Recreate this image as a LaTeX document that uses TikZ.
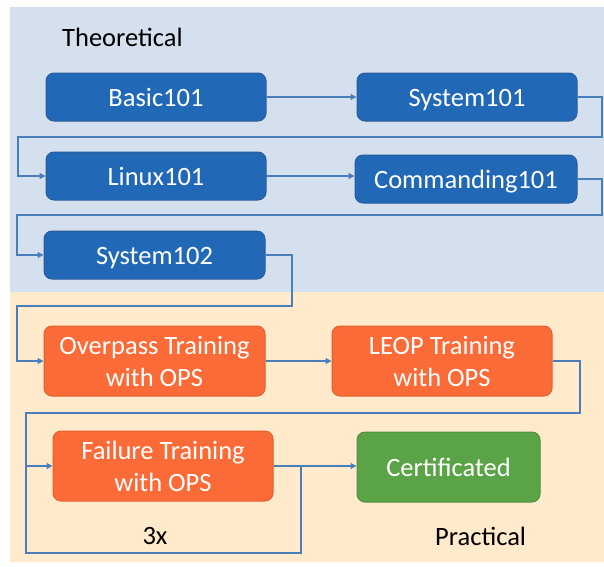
\documentclass[tikz,border=0pt]{standalone}
\usepackage{fontspec}
\setmainfont{Carlito}
\usetikzlibrary{arrows.meta}
\definecolor{bgblue}{HTML}{D5E0EE}
\definecolor{bgorange}{HTML}{FFEBCB}
\definecolor{boxblue}{HTML}{2169B6}
\definecolor{boxblueedge}{HTML}{2A5C9A}
\definecolor{boxorange}{HTML}{FB6B37}
\definecolor{boxorangeedge}{HTML}{E0602F}
\definecolor{boxgreen}{HTML}{5AA447}
\definecolor{boxgreenedge}{HTML}{4E8F3E}
\definecolor{conncol}{HTML}{4A7EBB}
\tikzset{
  card/.style={rounded corners=8pt, text=white, align=center, font=\fontsize{26.5}{32}\selectfont, line width=1pt, inner sep=0pt},
  bluecard/.style={card, fill=boxblue, draw=boxblueedge, minimum width=220pt, minimum height=48pt, text height=18pt, text depth=0pt},
  orangecard/.style={card, fill=boxorange, draw=boxorangeedge, minimum width=220pt, minimum height=70pt},
  greencard/.style={card, fill=boxgreen, draw=boxgreenedge, minimum width=183pt, minimum height=70pt, text height=18pt, text depth=0pt},
  conn/.style={draw=conncol, line width=1.2pt, -{Triangle[length=6pt,width=6pt]}},
  plainconn/.style={draw=conncol, line width=1.2pt},
  lbl/.style={font=\fontsize{26.5}{30}\selectfont, text=black, inner sep=0pt}
}
\begin{document}
\begin{tikzpicture}[x=1pt,y=-1pt]
\useasboundingbox (0,0) rectangle (604,566);
\fill[bgblue] (10,7) rectangle (604,292);
\fill[bgorange] (10,292) rectangle (604,562);

\node[lbl, anchor=west] (theo) at (62,37) {Theoretical};
\node[lbl] (three) at (155,536) {3x};
\node[lbl, anchor=west] (prac) at (435,536) {Practical};

\node[bluecard] (b101) at (156,97) {Basic101};
\node[bluecard] (s101) at (467,97) {System101};
\node[bluecard] (l101) at (156,176) {Linux101};
\node[bluecard, minimum width=222pt] (c101) at (466,179) {Commanding101};
\node[bluecard, minimum width=221pt] (s102) at (154.5,255) {System102};
\node[orangecard, minimum width=221pt] (ovp) at (154.5,361) {Overpass Training\\with OPS};
\node[orangecard] (leop) at (442,361) {LEOP Training\\with OPS};
\node[orangecard] (fail) at (163,466) {Failure Training\\with OPS};
\node[greencard] (cert) at (448.5,467) {Certificated};

\coordinate (r1) at (602,137);
\coordinate (l1) at (18,137);
\coordinate (r2) at (602,215);
\coordinate (l2) at (17,215);
\coordinate (r3) at (292,306);
\coordinate (l3) at (17,306);
\coordinate (r4) at (580,413);
\coordinate (l4) at (26,413);
\coordinate (lp1) at (301,466);
\coordinate (lp2) at (301,553);
\coordinate (lp3) at (26,553);
\coordinate (lp4) at (26,466);

\draw[conn] (b101.east) -- (s101.west);
\draw[conn] (s101.east) -| (r1) -- (l1) |- (l101.west);
\draw[conn] (l101.east) -- (l101.east -| c101.west);
\draw[conn] (c101.east) -| (r2) -- (l2) |- (s102.west);
\draw[conn] (s102.east) -| (r3) -- (l3) |- (ovp.west);
\draw[conn] (ovp.east) -- (leop.west);
\draw[conn] (leop.east) -| (r4) -- (l4) |- (fail.west);
\draw[conn] (fail.east) -- (fail.east -| cert.west);
\draw[plainconn] (fail.east) -- (lp1) -- (lp2) -- (lp3) -- (lp4);
\end{tikzpicture}
\end{document}
